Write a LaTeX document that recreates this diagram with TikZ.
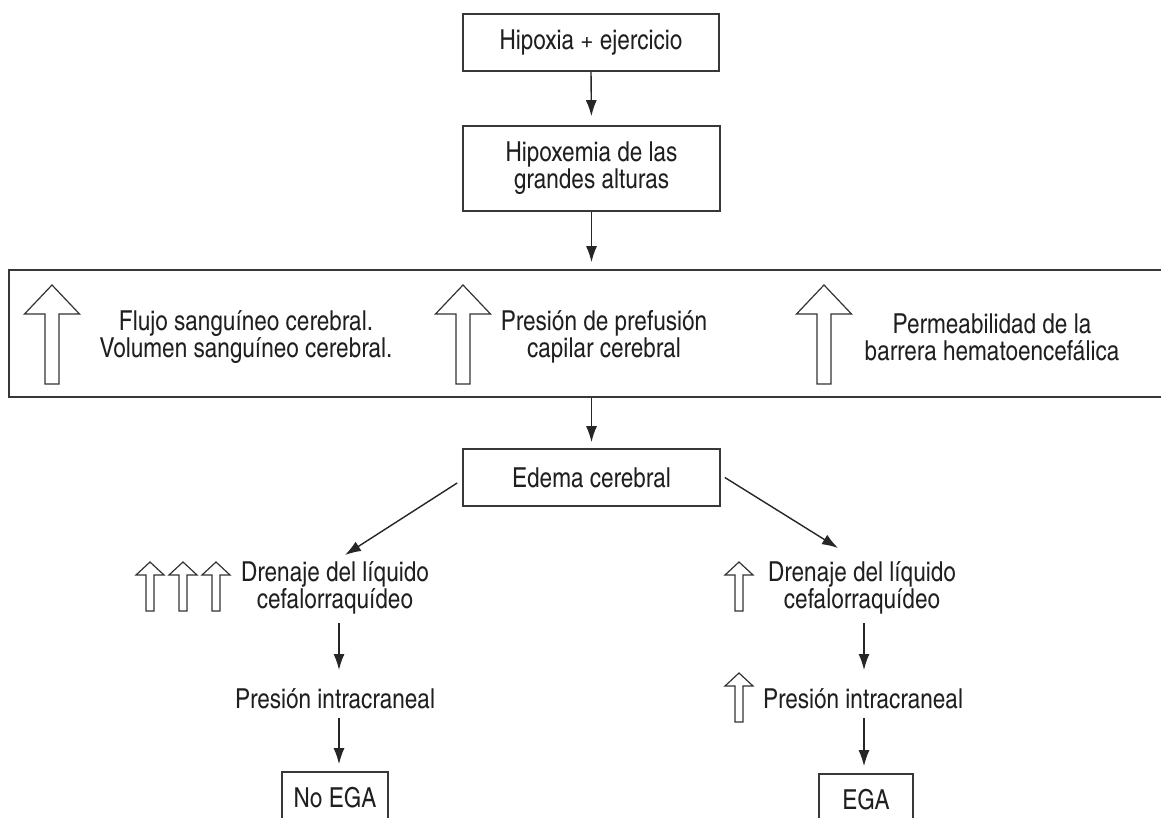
\documentclass[tikz,border=0pt]{standalone}
\usepackage{fontspec}
\setmainfont{texgyreheroscn}[Extension=.otf, UprightFont=*-regular, BoldFont=*-bold]
\usetikzlibrary{arrows.meta,calc}
\tikzset{
  bigup/.pic={\path[hollow] (0,0) -- (-27.5,29) -- (-7,29) -- (-7,99) -- (7,99) -- (7,29) -- (27.5,29) -- cycle;},
  smallup/.pic={\path[hollow] (0,0) -- (-14,13) -- (-4,13) -- (-4,49) -- (4,49) -- (4,13) -- (14,13) -- cycle;}
}
\begin{document}
\begin{tikzpicture}[x=1pt,y=-1pt,
  every node/.style={font=\fontsize{27.5}{26.7}\selectfont, text=black!88},
  box/.style={draw=black!78, line width=1.7pt, align=center, inner sep=0pt},
  lbl/.style={align=center, inner sep=0pt},
  arr/.style={draw=black!85, line width=1.4pt, -{Latex[length=16pt,width=11pt]}},
  hollow/.style={draw=black!80, line width=1.2pt, fill=white, line join=miter}]
\clip (0,0) rectangle (1161,818);
\fill[white] (0,0) rectangle (1161,818);

\node[box, minimum width=256pt, minimum height=57pt] (h1) at (591,42.5) {Hipoxia + ejercicio};
\node[box, minimum width=257pt, minimum height=85pt] (h2) at (591.5,168.5) {Hipoxemia de las\\grandes alturas};
\node[box, minimum width=1170pt, minimum height=127pt] (band) at (594,333.5) {};
\node[lbl] (t1) at (246,337) {Flujo sanguíneo cerebral.\\Volumen sanguíneo cerebral.};
\node[lbl] (t2) at (604,337) {Presión de prefusión\\capilar cerebral};
\node[lbl] (t3) at (992,337) {Permeabilidad de la\\barrera hematoencefálica};
\pic at (52,285) {bigup};
\pic at (463,285) {bigup};
\pic at (824,285) {bigup};

\node[box, minimum width=257pt, minimum height=57pt] (ed) at (591.5,477.5) {Edema cerebral};
\node[lbl] (dl) at (335,588) {Drenaje del líquido\\cefalorraquídeo};
\node[lbl] (dr) at (862,588) {Drenaje del líquido\\cefalorraquídeo};
\node[lbl] (pl) at (335,699) {Presión intracraneal};
\node[lbl] (pr) at (863,699) {Presión intracraneal};
\node[box, minimum width=106pt, minimum height=52pt] (nl) at (335,798) {No EGA};
\node[box, minimum width=94pt, minimum height=52pt] (nr) at (866,800) {EGA};

\pic at (150,562) {smallup};
\pic at (183,562) {smallup};
\pic at (216,562) {smallup};
\pic at (739,562) {smallup};
\pic at (739,673) {smallup};

\draw[arr, shorten >=9pt] (h1.south) -- (h2.north);
\draw[arr, shorten >=7pt] (h2.south) -- (h2.south |- band.north);
\draw[arr, shorten >=6pt] (ed.north |- band.south) -- (ed.north);
\draw[arr] ($(ed.west)+(-5,5.5)$) -- ($(dl)+(10,-33)$);
\draw[arr] ($(ed.east)+(4,0)$) -- ($(dr)+(-24,-40)$);
\draw[arr] ($(dl)+(4,35)$) -- ($(pl)+(4,-29)$);
\draw[arr] ($(pl)+(4,19)$) -- ($(nl.north)+(4,-7)$);
\draw[arr] ($(dr)+(2,35)$) -- ($(pr)+(1,-29)$);
\draw[arr] ($(pr)+(1,19)$) -- ($(nr.north)+(-2,-7)$);
\end{tikzpicture}
\end{document}
